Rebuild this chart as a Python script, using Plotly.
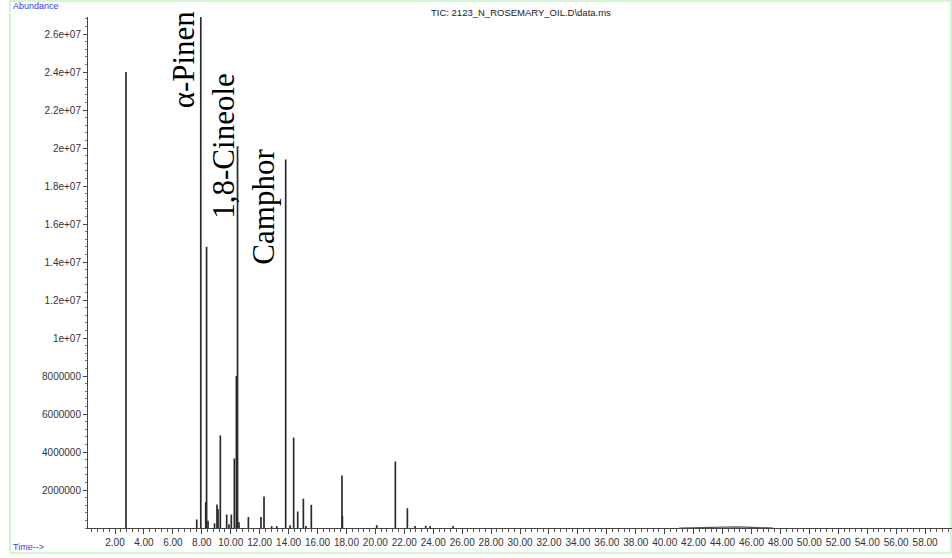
import plotly.graph_objects as go

# Retention times (min) and abundances of the resolved peaks
peak_times = [2.76, 7.65, 7.93, 8.27, 8.33, 8.43, 8.88, 9.05, 9.12, 9.28,
              9.72, 9.88, 10.04, 10.25, 10.39, 10.47, 10.57, 11.22, 12.09, 12.30,
              12.83, 13.18, 13.80, 14.10, 14.35, 14.63, 15.02, 15.20, 15.57, 17.69,
              17.72, 20.09, 21.38, 22.21, 22.74, 23.48, 23.78, 25.37]
peak_heights = [2.40e7, 4.5e5, 2.70e7, 1.36e6, 1.48e7, 3.8e5, 2.5e5, 1.24e6, 1.0e6, 4.87e6,
                7.1e5, 2.0e5, 7.1e5, 3.66e6, 8.0e6, 2.01e7, 3.0e5, 5.8e5, 5.8e5, 1.66e6,
                1.0e5, 1.0e5, 1.94e7, 1.5e5, 4.76e6, 8.7e5, 1.54e6, 1.0e5, 1.22e6, 2.76e6,
                6.2e5, 1.5e5, 3.50e6, 1.04e6, 1.0e5, 1.2e5, 1.0e5, 1.0e5]

# Slow baseline rise late in the run
drift_times = [41.0, 42.5, 44.0, 45.0, 46.0, 47.5]
drift_levels = [0.0, 3.0e4, 6.0e4, 6.0e4, 3.0e4, 0.0]

# Compound labels
label_names = ["α-Pinen", "1,8-Cineole", "Camphor"]
label_peaks = [7.93, 10.47, 13.80]
label_levels = [2.466e7, 2.01e7, 1.69e7]
label_shift = [-17, -14, -22]

# Axis tick labels
y_tickvals = [2e6 * k for k in range(1, 14)]
y_ticktext = ["2000000", "4000000", "6000000", "8000000", "1e+07", "1.2e+07", "1.4e+07",
              "1.6e+07", "1.8e+07", "2e+07", "2.2e+07", "2.4e+07", "2.6e+07"]

xs, ys = [], []
for t, h in zip(peak_times, peak_heights):
    xs += [t, t, None]
    ys += [0, h, None]

fig = go.Figure()
fig.add_trace(go.Scatter(x=drift_times, y=drift_levels, mode="lines",
                         line=dict(color="#555555", width=1.2), hoverinfo="skip"))
fig.add_trace(go.Scatter(x=xs, y=ys, mode="lines",
                         line=dict(color="#2b2b2b", width=1.7), hoverinfo="skip"))

for name, t, lvl, sh in zip(label_names, label_peaks, label_levels, label_shift):
    fig.add_annotation(x=t, y=lvl, xref="x", yref="y", text=name, showarrow=False,
                       textangle=-90, xanchor="center", yanchor="middle", xshift=sh,
                       font=dict(family="Liberation Serif", size=31, color="#000000"))

W, H = 952, 558
L, R, T, B = 88, 0, 17, 30
pw, ph = W - L - R, H - T - B

def px(xp):
    return (xp - L) / pw

def py(yp):
    return (H - B - yp) / ph

# Light green outer frame
fig.add_shape(type="rect", xref="paper", yref="paper",
              x0=px(10), x1=px(951), y0=py(553), y1=py(1),
              line=dict(color="#c6f2c6", width=1.5), fillcolor="rgba(0,0,0,0)", layer="below")

fig.add_annotation(xref="paper", yref="paper", x=px(11), y=py(6), text="Abundance",
                   showarrow=False, xanchor="left", yanchor="middle",
                   font=dict(family="Liberation Sans", size=9, color="#3b3bf0"))
fig.add_annotation(xref="paper", yref="paper", x=px(11), y=py(547), text="Time-->",
                   showarrow=False, xanchor="left", yanchor="middle",
                   font=dict(family="Liberation Sans", size=9, color="#3b3bf0"))
fig.add_annotation(xref="paper", yref="paper", x=px(521), y=py(12),
                   text="TIC: 2123_N_ROSEMARY_OIL.D\\data.ms",
                   showarrow=False, xanchor="center", yanchor="middle",
                   font=dict(family="Liberation Sans", size=9.5, color="#222222"))

fig.update_layout(
    width=W, height=H, margin=dict(l=L, r=R, t=T, b=B),
    paper_bgcolor="white", plot_bgcolor="white", showlegend=False,
    font=dict(family="Liberation Sans", size=10, color="#333333"),
)
fig.update_xaxes(range=[0.133, 59.86], tick0=0, dtick=2, tickformat=".2f",
                 ticks="outside", ticklen=5, tickcolor="#444444", tickwidth=1,
                 showline=True, linecolor="#444444", linewidth=1,
                 showgrid=False, zeroline=False,
                 minor=dict(dtick=0.4, ticklen=3, tickcolor="#555555", ticks="outside", showgrid=False),
                 tickfont=dict(size=10, color="#333333"))
fig.update_yaxes(range=[0, 2.69e7], tickvals=y_tickvals, ticktext=y_ticktext,
                 ticks="outside", ticklen=4, tickcolor="#444444", tickwidth=1,
                 showline=True, linecolor="#444444", linewidth=1,
                 showgrid=False, zeroline=False,
                 minor=dict(dtick=4e5, ticklen=2, tickcolor="#777777", ticks="outside", showgrid=False),
                 tickfont=dict(size=10, color="#333333"))

fig.write_html("out.html")
